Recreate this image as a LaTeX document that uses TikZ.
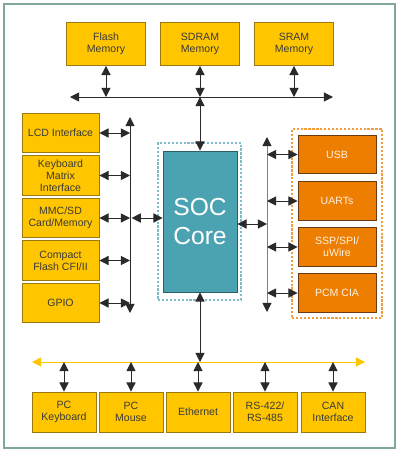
\documentclass[tikz,border=0pt]{standalone}
\usepackage{fontspec}
\setmainfont{Liberation Sans}
\usetikzlibrary{arrows.meta}

\definecolor{boxyellow}{HTML}{FFC600}
\definecolor{yellowedge}{HTML}{9A7A10}
\definecolor{boxorange}{HTML}{EE7E00}
\definecolor{orangeedge}{HTML}{6A3A10}
\definecolor{orangedash}{HTML}{F39A3A}
\definecolor{socteal}{HTML}{4BA3B2}
\definecolor{tealedge}{HTML}{2E5F68}
\definecolor{tealdash}{HTML}{7DBCC8}
\definecolor{frame}{HTML}{80A898}
\definecolor{textgray}{HTML}{3A3A3A}
\definecolor{linegray}{HTML}{2A2A2A}

\begin{document}
\begin{tikzpicture}[
    x=0.025cm, y=-0.025cm,
    every node/.style={font=\fontsize{7.5}{8.5}\selectfont, align=center, inner sep=0pt},
    yelbox/.style={draw=yellowedge, fill=boxyellow, text=textgray, line width=0.6pt},
    orabox/.style={draw=orangeedge, fill=boxorange, text=white!90!orange, line width=0.6pt,
        minimum width=1.95cm, minimum height=0.96cm},
    membox/.style={yelbox, minimum width=1.975cm, minimum height=1.075cm},
    sidebox/.style={yelbox, minimum width=1.925cm, minimum height=0.98cm},
    portbox/.style={yelbox, minimum width=1.6cm, minimum height=1cm},
    link/.style={draw=linegray, line width=0.7pt, {Triangle[length=2.3mm, width=2.3mm]}-{Triangle[length=2.3mm, width=2.3mm]}},
    graybus/.style={draw=gray, line width=0.7pt,
        {Triangle[length=2.3mm, width=2.3mm, color=linegray]}-{Triangle[length=2.3mm, width=2.3mm, color=linegray]}},
    ylink/.style={draw=boxyellow, line width=0.7pt, {Triangle[length=2.3mm, width=2.3mm]}-{Triangle[length=2.3mm, width=2.3mm]}},
    dashframe/.style={line width=1pt, dash pattern=on 1.6pt off 1.2pt}
]

% Outer frame
\useasboundingbox (0,0) rectangle (400,453);
\draw[frame, line width=1.2pt] (4,4) rectangle (395,448);

% Memories on top
\node[membox] (flash) at (106,44) {Flash\\Memory};
\node[membox] (sdram) at (200,44) {SDRAM\\Memory};
\node[membox] (sram) at (294,44) {SRAM\\Memory};

% SOC core
\node[draw=tealdash, dashframe, minimum width=2.075cm, minimum height=3.925cm] (socframe) at (199.5,221.5) {};
\node[draw=tealedge, fill=socteal, line width=0.6pt, text=white, minimum width=1.85cm,
    minimum height=3.525cm, font=\fontsize{17.5}{20}\selectfont] (soc) at (200,221.5) {SOC\\Core};

% Left peripherals
\node[sidebox] (lcd) at (60.5,133) {LCD Interface};
\node[sidebox] (kbd) at (60.5,175.5) {Keyboard\\Matrix\\Interface};
\node[sidebox] (mmc) at (60.5,218) {MMC/SD\\Card/Memory};
\node[sidebox] (cf) at (60.5,260.5) {Compact\\Flash CFI/II};
\node[sidebox] (gpio) at (60.5,303) {GPIO};

% Right peripherals
\node[draw=orangedash, dashframe, minimum width=2.25cm, minimum height=4.725cm] (ioframe) at (337,223.5) {};
\node[orabox] (usb) at (337,154.5) {USB};
\node[orabox] (uart) at (337,201) {UARTs};
\node[orabox] (ssp) at (337,247) {SSP/SPI/\\uWire};
\node[orabox] (pcm) at (337,293) {PCM CIA};

% Bottom ports
\node[portbox] (pckbd) at (64,412) {PC\\Keyboard};
\node[portbox] (pcmouse) at (131,412) {PC\\Mouse};
\node[portbox] (eth) at (198,412) {Ethernet};
\node[portbox] (rs) at (265,412) {RS-422/\\RS-485};
\node[portbox] (can) at (333,412) {CAN\\Interface};

% Bus ends
\coordinate (topL) at (70,97);
\coordinate (topR) at (333,97);
\coordinate (leftT) at (130,117);
\coordinate (leftB) at (130,313);
\coordinate (rightT) at (267,137);
\coordinate (rightB) at (267,312);
\coordinate (botL) at (32,362);
\coordinate (botR) at (365,362);

% Buses
\draw[link] (topL) -- (topR);
\draw[link] (leftT) -- (leftB);
\draw[graybus] (rightT) -- (rightB);
\draw[ylink] (botL) -- (botR);

% Memory links
\foreach \m in {flash, sdram, sram}
    \draw[link] (\m.south) -- (\m.south |- topL);
\draw[link] (sdram.south |- topL) -- (soc.north);

% Left links
\foreach \p in {lcd, kbd, mmc, cf, gpio}
    \draw[link] (\p.east) -- (\p.east -| leftT);
\draw[link] (soc.west |- mmc) ++(-31,0) -- (soc.west |- mmc);

% Right links
\foreach \p in {usb, uart, ssp, pcm}
    \draw[link] (\p.west -| rightT) -- (\p.west);
\draw[link] (soc.east |- 0,224) -- (rightT |- 0,224);

% Bottom links
\draw[link] (soc.south) -- (soc.south |- botL);
\foreach \p in {pckbd, pcmouse, eth, rs, can}
    \draw[link] (\p.north |- botL) -- (\p.north);

\end{tikzpicture}
\end{document}
